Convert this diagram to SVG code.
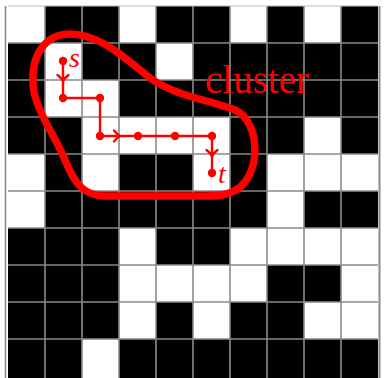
<svg xmlns="http://www.w3.org/2000/svg" width="384" height="378" viewBox="0 0 384 378">
<style>
.blk{fill:#000}
.grid line{stroke:#8a8a8a;stroke-width:1.6}
.edge{stroke:#707070;stroke-width:3}
.red{stroke:#f00;fill:none}
.dot{fill:#f00}
.lbl{fill:#f00;font-family:"Liberation Serif","Times New Roman",serif}
</style>
<defs>
<path id="ah" d="M -5 -5.5 Q -1.5 -1 1.5 0 Q -1.5 1 -5 5.5" fill="none" stroke="#f00" stroke-width="2.3" stroke-linecap="round"/>
</defs>
<rect width="384" height="378" fill="#fff"/>
<g id="cells">
<rect class="blk" x="45" y="6" width="74" height="37"/><rect class="blk" x="156" y="6" width="74" height="37"/><rect class="blk" x="267" y="6" width="37" height="37"/><rect class="blk" x="341" y="6" width="37" height="37"/>
<rect class="blk" x="8" y="43" width="37" height="37"/><rect class="blk" x="82" y="43" width="74" height="37"/><rect class="blk" x="193" y="43" width="185" height="37"/>
<rect class="blk" x="8" y="80" width="37" height="37"/><rect class="blk" x="119" y="80" width="259" height="37"/>
<rect class="blk" x="8" y="117" width="74" height="37"/><rect class="blk" x="230" y="117" width="74" height="37"/><rect class="blk" x="341" y="117" width="37" height="37"/>
<rect class="blk" x="45" y="154" width="37" height="37"/><rect class="blk" x="119" y="154" width="74" height="37"/><rect class="blk" x="230" y="154" width="37" height="37"/>
<rect class="blk" x="45" y="191" width="222" height="37"/><rect class="blk" x="304" y="191" width="74" height="37"/>
<rect class="blk" x="8" y="228" width="111" height="37"/><rect class="blk" x="156" y="228" width="74" height="37"/>
<rect class="blk" x="8" y="265" width="111" height="37"/><rect class="blk" x="267" y="265" width="74" height="37"/>
<rect class="blk" x="8" y="302" width="111" height="37"/><rect class="blk" x="156" y="302" width="37" height="37"/><rect class="blk" x="230" y="302" width="74" height="37"/>
<rect class="blk" x="8" y="339" width="74" height="39"/><rect class="blk" x="119" y="339" width="259" height="39"/>
</g>
<g id="grid" class="grid">
<line x1="45" y1="6" x2="45" y2="378"/><line x1="82" y1="6" x2="82" y2="378"/><line x1="119" y1="6" x2="119" y2="378"/><line x1="156" y1="6" x2="156" y2="378"/><line x1="193" y1="6" x2="193" y2="378"/><line x1="230" y1="6" x2="230" y2="378"/><line x1="267" y1="6" x2="267" y2="378"/><line x1="304" y1="6" x2="304" y2="378"/><line x1="341" y1="6" x2="341" y2="378"/>
<line x1="8" y1="6" x2="378" y2="6" style="stroke:#bbb;stroke-width:1"/>
<line x1="8" y1="43" x2="378" y2="43"/><line x1="8" y1="80" x2="378" y2="80"/><line x1="8" y1="117" x2="378" y2="117"/><line x1="8" y1="154" x2="378" y2="154"/><line x1="8" y1="191" x2="378" y2="191"/><line x1="8" y1="228" x2="378" y2="228"/><line x1="8" y1="265" x2="378" y2="265"/><line x1="8" y1="302" x2="378" y2="302"/><line x1="8" y1="339" x2="378" y2="339"/>
<line class="edge" x1="5.5" y1="6" x2="5.5" y2="378"/>
<line class="edge" x1="379.5" y1="6" x2="379.5" y2="378" style="stroke-width:2"/>
</g>
<g id="cluster">
<path class="red" stroke-width="7.5" stroke-linejoin="round" d="M 70 34 C 100 34 125 58 150 78 C 175 96 210 100 235 110 C 262 122 262 180 232 192 C 220 197 210 196 200 196 L 105 196 C 85 196 75 185 65 160 C 55 135 35 110 33 85 C 31 55 45 34 70 34 Z"/>
<text class="lbl" x="205" y="93" font-size="39">cluster</text>
</g>
<g id="connectors">
<polyline class="red" stroke-width="2.4" points="63,61 63,98 100,98 100,136 138,136 175,136 212,136 212,173"/>
<use href="#ah" transform="translate(63,80) rotate(90)"/>
<use href="#ah" transform="translate(119,136)"/>
<use href="#ah" transform="translate(212,155) rotate(90)"/>
</g>
<g id="node-s"><circle class="dot" cx="63" cy="61" r="4.2"/><text class="lbl" x="69" y="67" font-size="28" font-style="italic">s</text></g>
<g id="node-2"><circle class="dot" cx="63" cy="98" r="4.2"/></g>
<g id="node-3"><circle class="dot" cx="100" cy="98" r="4.2"/></g>
<g id="node-4"><circle class="dot" cx="100" cy="136" r="4.2"/></g>
<g id="node-5"><circle class="dot" cx="138" cy="136" r="4.2"/></g>
<g id="node-6"><circle class="dot" cx="175" cy="136" r="4.2"/></g>
<g id="node-7"><circle class="dot" cx="212" cy="136" r="4.2"/></g>
<g id="node-t"><circle class="dot" cx="212" cy="173" r="4.2"/><text class="lbl" x="218" y="183" font-size="28" font-style="italic">t</text></g>
</svg>
